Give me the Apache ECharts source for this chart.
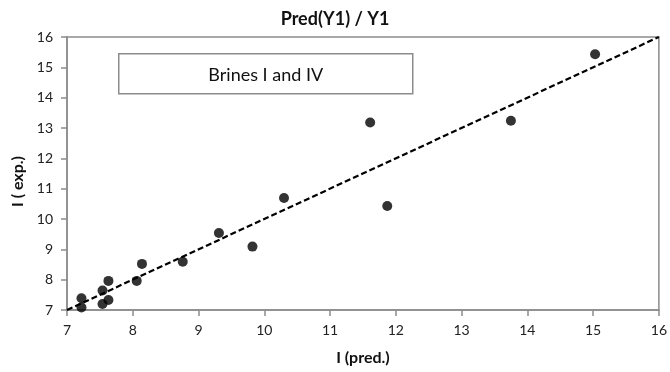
<!DOCTYPE html>
<html><head><meta charset="utf-8">
<script src="https://cdn.jsdelivr.net/npm/echarts@6/dist/echarts.min.js"></script>
<style>html,body{margin:0;padding:0;background:#fff}#c{width:670px;height:372px}</style>
</head><body><div id="c"></div>
<script>
var title = 'Pred(Y1) / Y1';
var xName = 'I (pred.)';
var yName = 'I ( exp.)';
var legendText = 'Brines I and IV';
var predValues = [7.22, 7.22, 7.54, 7.54, 7.63, 7.63, 8.06, 8.14, 8.76, 9.31, 9.82, 10.30, 11.61, 11.87, 13.75, 15.03];
var expValues  = [7.39, 7.08, 7.64, 7.20, 7.96, 7.33, 7.96, 8.52, 8.59, 9.54, 9.09, 10.69, 13.18, 10.43, 13.24, 15.43];
var refLine = [[7, 7], [16, 16]];
var axisMin = 7, axisMax = 16, axisStep = 1;

var pts = predValues.map(function(v, i){ return [v, expValues[i]]; });
var font = 'Lato, "Open Sans", sans-serif';
var chart = echarts.init(document.getElementById('c'));
chart.setOption({
  animation: false,
  title: { text: title, left: 'center', top: 5, textStyle: { fontFamily: font, fontSize: 18, fontWeight: 'bold', color: '#111' } },
  grid: { left: 67, right: 11, top: 37, bottom: 62, show: true, borderColor: '#8c8c8c', borderWidth: 1.5 },
  xAxis: {
    type: 'value', min: axisMin, max: axisMax, interval: axisStep,
    name: xName, nameLocation: 'middle', nameGap: 40,
    nameTextStyle: { fontFamily: font, fontSize: 16, fontWeight: 'bold', color: '#111' },
    axisLine: { show: true, lineStyle: { color: '#8c8c8c', width: 1.5 } },
    axisTick: { show: true, length: 6, lineStyle: { color: '#8c8c8c', width: 1.5 } },
    axisLabel: { fontFamily: font, fontSize: 14, color: '#222', margin: 13 },
    splitLine: { show: false }
  },
  yAxis: {
    type: 'value', min: axisMin, max: axisMax, interval: axisStep,
    name: yName, nameLocation: 'middle', nameGap: 36, nameRotate: 90,
    nameTextStyle: { fontFamily: font, fontSize: 16, fontWeight: 'bold', color: '#111', padding: [0, 16, 0, 0] },
    axisLine: { show: true, lineStyle: { color: '#8c8c8c', width: 1.5 } },
    axisTick: { show: true, length: 6, lineStyle: { color: '#8c8c8c', width: 1.5 } },
    axisLabel: { fontFamily: font, fontSize: 14, color: '#222', margin: 14 },
    splitLine: { show: false }
  },
  graphic: [{
    type: 'group', left: 118, top: 53,
    children: [
      { type: 'rect', shape: { x: 0, y: 0, width: 294, height: 40 }, style: { fill: '#fff', stroke: '#8c8c8c', lineWidth: 1.5 } },
      { type: 'text', style: { x: 147, y: 21, text: legendText, align: 'center', verticalAlign: 'middle', fontFamily: font, fontSize: 18, fill: '#111' } }
    ]
  }],
  series: [
    { type: 'line', data: refLine, symbol: 'none', lineStyle: { color: '#000', width: 2.2, type: [6, 3] }, z: 2 },
    { type: 'scatter', data: pts, symbolSize: 10, itemStyle: { color: '#000' }, z: 3 }
  ]
});
</script></body></html>
